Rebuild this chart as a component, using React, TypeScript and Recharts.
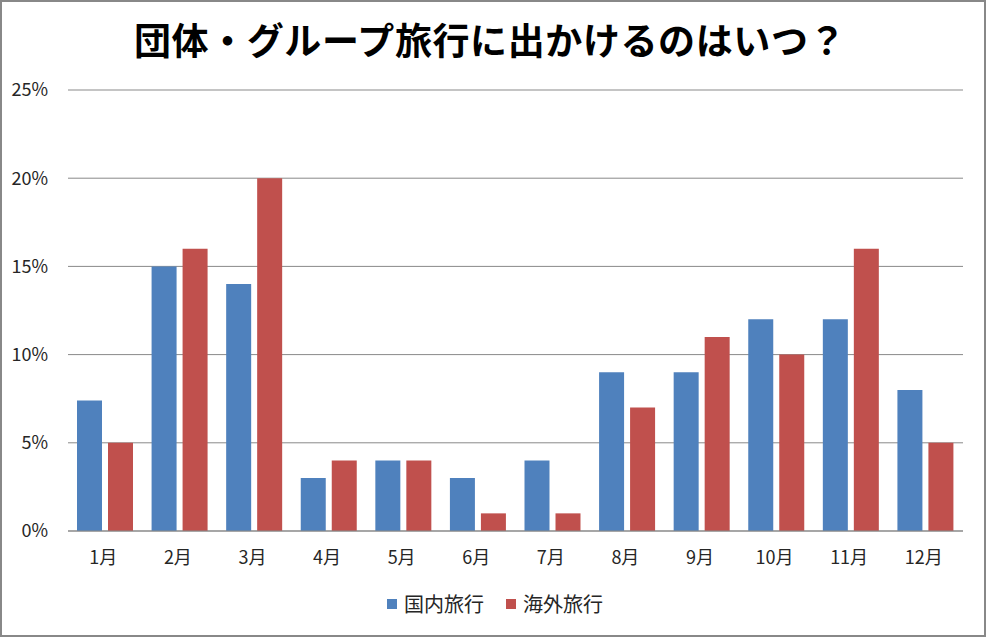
import React from 'react';
import { BarChart, Bar, XAxis, YAxis, CartesianGrid, Legend } from 'recharts';

const months = ['1月', '2月', '3月', '4月', '5月', '6月', '7月', '8月', '9月', '10月', '11月', '12月'];
const domestic = [7.4, 15, 14, 3, 4, 3, 4, 9, 9, 12, 12, 8];
const overseas = [5, 16, 20, 4, 4, 1, 1, 7, 11, 10, 16, 5];
const yTicks = [0, 5, 10, 15, 20, 25];
const seriesNames = ['国内旅行', '海外旅行'];
const colors = ['#4F81BD', '#C0504D'];
const title = '団体・グループ旅行に出かけるのはいつ？';

const data = months.map((m, i) => ({ month: m, domestic: domestic[i], overseas: overseas[i] }));

const FONT = "'Noto Sans CJK JP', 'Noto Sans', sans-serif";

const LegendContent = () => (
  <div style={{ display: 'flex', alignItems: 'center', paddingLeft: 387, height: 28, fontFamily: FONT }}>
    {seriesNames.map((n, i) => (
      <div key={n} style={{ display: 'flex', alignItems: 'center', marginRight: 22 }}>
        <span style={{ width: 10, height: 10, background: colors[i], display: 'inline-block', marginRight: 7 }} />
        <span style={{ fontSize: 20, color: '#262626', lineHeight: '28px' }}>{n}</span>
      </div>
    ))}
  </div>
);

export default function App() {
  return (
    <div style={{ position: 'absolute', left: 0, top: 0, width: 986, height: 637, background: '#fff' }}>
      <BarChart
        width={986}
        height={637}
        data={data}
        margin={{ top: 90, right: 23, left: 0, bottom: 0 }}
        barSize={25}
        barGap={6}
      >
        <CartesianGrid vertical={false} stroke="#898989" strokeWidth={1} />
        <XAxis
          dataKey="month"
          height={106}
          axisLine={{ stroke: '#898989' }}
          tickLine={false}
          tickSize={0}
          tickMargin={20}
          interval={0}
          tick={{ fontSize: 18, fill: '#262626', fontFamily: FONT, dx: -2 }}
        />
        <YAxis
          width={68}
          domain={[0, 25]}
          ticks={yTicks}
          tickFormatter={(v) => `${v}%`}
          axisLine={false}
          tickLine={false}
          tickSize={0}
          tickMargin={20}
          tick={{ fontSize: 18, fill: '#262626', fontFamily: FONT }}
        />
        <Legend
          layout="horizontal"
          verticalAlign="middle"
          align="center"
          content={<LegendContent />}
          wrapperStyle={{ top: 590, left: 0, width: 986, height: 28 }}
        />
        <Bar dataKey="domestic" name={seriesNames[0]} fill={colors[0]} isAnimationActive={false} />
        <Bar dataKey="overseas" name={seriesNames[1]} fill={colors[1]} isAnimationActive={false} />
      </BarChart>
      <svg width={986} height={80} style={{ position: 'absolute', left: 0, top: 0, pointerEvents: 'none' }}>
        <text
          x={490}
          y={39}
          textAnchor="middle"
          dominantBaseline="central"
          fontFamily={FONT}
          fontWeight="bold"
          fontSize={37}
          letterSpacing={0.6}
          fill="#000"
        >
          {title}
        </text>
      </svg>
      <div
        style={{
          position: 'absolute',
          left: 0,
          top: 0,
          width: 986,
          height: 637,
          boxSizing: 'border-box',
          border: '2px solid #888',
          pointerEvents: 'none',
        }}
      />
    </div>
  );
}
